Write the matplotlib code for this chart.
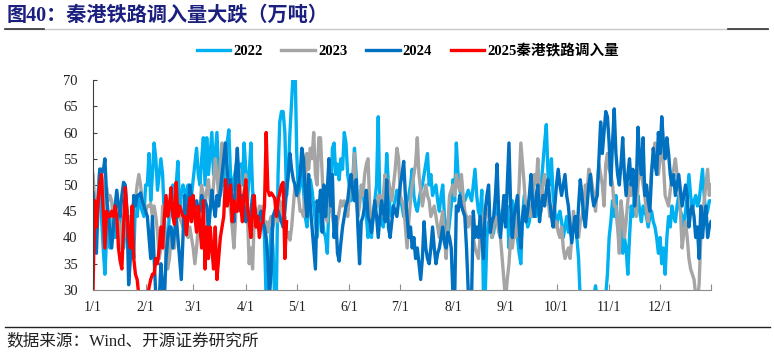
import matplotlib.pyplot as plt
from matplotlib.lines import Line2D
from matplotlib.font_manager import FontProperties

plt.rcParams['font.family'] = ['Liberation Serif', 'Noto Sans CJK SC']

# daily values, day 0 = 1/1
y2022 = [
    42, 38, 46, 48, 53, 44, 38, 33, 40, 45,
    38, 44, 46, 40, 44, 42, 46, 40, 38, 42,
    40, 44, 38, 42, 36, 47, 44, 48, 46, 45,
    44, 50, 50, 56, 47, 52, 58, 55, 49, 52,
    55, 52, 44, 38, 36, 46, 48, 50, 46, 50,
    54.5, 45, 48, 50, 49, 47, 50, 45, 48, 51,
    54, 57, 52, 50, 55, 59, 50, 59, 52, 56,
    60, 52, 56, 60, 52, 48, 50, 50, 56, 58,
    60.5, 52, 49, 51, 53, 55, 52, 54, 50, 58,
    53, 47, 52, 58, 49, 46, 44, 42, 42, 45,
    44, 40, 28, 28, 36, 42, 38, 28, 29, 52,
    62, 64, 64, 60, 48, 52, 60, 66, 72, 73,
    56, 48, 50, 54, 49, 44, 42, 46, 51, 49,
    46, 43, 40, 44, 47, 44, 41, 40, 37, 47,
    45, 57, 58, 52, 54, 51, 55, 53, 60, 58,
    52, 50, 47, 51, 57, 52, 46, 47, 49, 50,
    45, 44, 40, 42, 40, 44, 47, 50, 63, 46,
    43, 42, 48, 56, 50, 45, 44, 46, 47, 49,
    48, 47, 46, 44, 45, 47, 48, 50, 53, 48,
    46, 45, 47, 49, 50, 52, 54, 56, 50, 52,
    48, 49, 50, 47, 45, 48, 50, 44, 42, 40,
    43, 46, 51, 47, 58, 52, 49, 48, 47, 47,
    48, 49, 48, 47, 50, 53, 48, 45, 44, 49,
    28, 29, 40, 43, 42, 40, 41, 44, 47, 45,
    42, 43, 44, 45, 46, 38, 42, 47, 44, 42,
    40, 37, 35, 44, 48, 44, 42, 43, 46, 44,
    45, 44, 46, 45, 50, 54, 58, 61.5, 52, 50,
    55, 48, 45, 42, 44, 45, 43, 40, 42, 44,
    41, 42, 40, 42, 44, 40, 36, 28, 27, 26,
    27, 25, 26, 28, 27, 29, 30.8, 28, 26, 25,
    27, 28, 29, 33, 40, 43, 47, 44, 48, 42,
    40, 44, 37, 40, 38, 33, 40, 46, 44, 48,
    46, 48, 45, 43, 46, 45, 44, 42, 44, 45,
    43, 42, 40, 37, 40, 35, 38, 33, 40, 44,
    42, 46, 44, 43, 46, 48, 45, 44, 42, 45,
    48, 52, 48, 45, 47, 48, 46, 47, 50, 53,
    48, 44, 45, 47, 47,
]

y2023 = [
    52, 47, 45, 48, 53, 52, 50, 45, 49.5, 47,
    48, 47, 42, 45, 43, 43, 38, 42, 44, 42,
    40, 42, 44, 42, 45, 47, 50, 52, 50, 47,
    46, 45, 46, 46, 46.5, 44, 46, 44, 41, 36,
    38, 46, 40, 36, 34, 36, 40, 38, 38, 43,
    46, 44, 43, 42, 44, 41, 40, 42, 40, 38,
    35, 38, 42, 46, 50, 48, 46, 49, 51, 47,
    46, 50, 55, 52, 48, 54, 58, 55, 58, 52,
    48, 45, 42, 38, 44, 51, 53, 49, 44, 48,
    52, 44, 35, 38, 34, 44, 42, 44, 46, 44,
    46, 42, 43, 41, 43, 44, 42, 44, 45, 43,
    47, 45, 42, 44, 40, 41, 39.5, 42, 46, 50,
    49, 48, 45, 45, 44, 50, 56, 53, 57, 55,
    60, 52, 50, 59, 59, 52, 45, 44, 43, 55,
    48, 44, 42, 40, 43, 45, 47, 46, 47, 46,
    44, 48, 52, 50, 56, 47, 44, 46, 50, 48,
    52, 54, 55, 46, 42, 44, 45, 46, 48, 48,
    44, 48, 52, 50, 51, 49, 47, 50, 53, 57,
    55, 48, 47, 46, 42, 38, 43, 47, 50, 52,
    54, 59, 52, 49, 46, 48, 50, 48, 47, 44,
    45, 46, 44, 42, 40, 43, 45, 40, 36, 42,
    48, 49, 50, 48, 52, 50, 49, 52, 48, 45,
    44, 42, 44, 43, 40, 38, 37, 36, 40, 43,
    44, 46, 45, 44, 42, 40, 42, 44, 43, 41,
    40, 36, 32, 28, 32, 35, 40, 38, 41, 40,
    44, 50, 58, 54, 50, 45, 44, 46, 44, 48,
    52, 50, 55, 48, 45, 50, 52, 50, 48, 44,
    46, 44, 42, 43, 41, 40, 42, 38, 36, 37,
    38, 36, 40, 45, 42, 42, 40, 43, 44, 46,
    50, 48, 53, 52, 50, 48, 45, 50, 54, 52,
    50, 46, 54, 56, 53, 52, 50, 46, 46, 42,
    37, 47, 44, 40, 43, 47, 50, 48, 52, 48,
    44, 50, 54, 52, 50, 48, 45, 43, 48, 53,
    55, 58, 54, 52, 55, 59, 54, 48, 47, 46,
    49, 52, 53, 55, 52, 51, 45, 38, 41, 43,
    40, 36, 34, 33, 32, 29, 28, 31, 40, 44,
    47, 50, 53, 48, 50,
]

y2024 = [
    48.5, 44, 37, 46, 53, 53, 52.5, 55, 48, 44,
    41, 38, 42, 46, 49, 46, 44, 48, 50.5, 50,
    45, 31, 36, 40, 48, 46, 48, 48, 48.5, 47,
    46, 45, 44, 40, 36, 44, 36, 29, 27, 28,
    35, 30, 28, 36, 40, 42, 42, 38, 41, 44,
    40, 36, 32, 40, 48, 42, 45, 50, 48, 44,
    46, 47, 45, 45, 48, 46, 47, 46, 41, 45,
    49, 46, 44, 48, 46, 49, 52, 55, 58, 53,
    49, 51, 46, 43, 52, 57, 50, 45, 48, 46,
    43, 45, 44, 45, 48, 46, 44, 42, 44, 45,
    43, 42, 40, 36, 29, 34, 44, 45, 46, 45,
    44, 43, 42, 45, 49, 52, 56, 53, 51, 50,
    48, 50, 52, 57, 55, 48, 44, 52, 46, 42,
    38, 34, 47, 45, 49, 41, 50, 44, 49, 55,
    46, 52, 40, 44, 37, 35.5, 39, 42, 44, 46,
    47, 50, 52, 49, 47, 51, 42, 35, 43, 44,
    46, 49, 44, 43, 41, 44, 47, 44, 40, 44,
    47, 45, 43, 51, 42, 40, 43, 46, 45, 44,
    47, 50, 52, 54.5, 48, 44, 40, 42, 38, 40,
    36, 38, 35, 32, 36, 43, 38, 36, 35, 38,
    42, 38, 35, 37, 38, 40, 42, 39, 38, 41,
    40, 38, 29, 28, 46, 45, 48, 46, 45, 44,
    38, 30, 28, 29, 45, 40, 42, 40, 44, 40,
    36, 45, 48, 50, 41, 43, 44, 48, 54, 44,
    40, 44, 48, 42, 50, 58, 46, 40, 44, 46,
    48, 42, 38, 44, 46, 43, 45, 48, 52, 46,
    44, 48, 50, 43, 46, 48, 46, 49, 51, 47,
    44, 42, 46, 50, 53, 50, 48, 50, 52, 48,
    46, 42, 39, 42, 44, 40, 46, 51, 48, 44,
    42, 46, 50, 52, 48, 46, 47, 48, 55, 62,
    56, 60, 64, 63, 58, 50, 58, 64.5, 56, 52,
    50, 54, 59, 52, 48, 52, 55, 50, 53, 46,
    50, 61, 55, 52, 59, 48, 50, 47, 45, 52,
    57, 54, 52, 60, 56, 63, 58, 55, 59, 56,
    52, 50, 52, 48, 50, 52, 49, 46, 48, 50,
    48, 42, 45, 46, 44, 40, 42, 36, 46, 40,
    44, 46, 40, 42, 43,
]

y2025 = [
    29.5, 47, 42, 47, 50, 52, 45, 38, 45, 44,
    44, 45, 44, 46, 44, 38, 35.5, 34, 42, 49.5,
    45, 40, 38, 46, 36, 33, 32, 29, 27, 26,
    26, 27, 28, 30.5, 32, 33, 33, 36, 35, 38,
    42, 38, 44, 48, 44, 46, 49.5, 44, 42.5, 50.5,
    44, 46, 45, 44, 44, 40.5, 44, 47.5, 43, 48,
    44, 41, 46, 42, 38, 47, 34, 42, 36, 42,
    38, 34, 42, 32, 36, 40, 42, 44, 51, 46,
    48, 50, 43, 47, 45, 45, 50, 46, 43, 48,
    51, 46, 43, 40, 45, 48, 42, 44, 40, 42.5,
    43, 46, 60, 49, 48, 48.5, 48, 47.5, 44, 47,
    48.5, 50, 50.5, 36, 43,
]

month_starts = [0, 31, 59, 90, 120, 151, 181, 212, 243, 273, 304, 334]
month_labels = ['1/1', '2/1', '3/1', '4/1', '5/1', '6/1',
                '7/1', '8/1', '9/1', '10/1', '11/1', '12/1']
year_end = 364

fig = plt.figure(figsize=(7.74, 3.55), dpi=100)
ax = fig.add_axes([93 / 774, 1 - 290 / 355, 618 / 774, 210 / 355])

ax.plot(range(len(y2022)), y2022, color='#00B0F0', lw=2.4, label='2022')
ax.plot(range(len(y2023)), y2023, color='#A5A5A5', lw=2.4, label='2023')
ax.plot(range(len(y2024)), y2024, color='#0070C0', lw=2.4, label='2024')
ax.plot(range(len(y2025)), y2025, color='#FF0000', lw=2.4, label='2025秦港铁路调入量')

ax.set_xlim(0, year_end)
ax.set_ylim(30, 70)
ax.set_yticks(range(30, 71, 5))
ax.set_xticks(month_starts + [year_end])
ax.set_xticklabels(month_labels + [''])

for s in ['top', 'right']:
    ax.spines[s].set_visible(False)
ax.spines['left'].set_color('#404040')
ax.spines['bottom'].set_color('#8C8C8C')
ax.tick_params(axis='y', direction='in', length=3, labelsize=10.5, pad=11,
               colors='#404040', labelcolor='#222222')
ax.tick_params(axis='x', direction='in', length=4, labelsize=10, pad=8,
               colors='#8C8C8C', labelcolor='#222222')

# legend above the plot
leg_font = FontProperties(family=['Liberation Serif', 'Noto Sans CJK SC'],
                          weight='bold', size=10.5)
fig.legend(loc='center', bbox_to_anchor=(0.527, 0.856), ncol=4, frameon=False,
           prop=leg_font, handlelength=2.3, handletextpad=0.2, columnspacing=1.3)

# title and rules
fig.text(7 / 774, 1 - 16 / 355, '图40：秦港铁路调入量大跌（万吨）', color='#1B1F7E',
         fontsize=14.5, fontweight='bold', va='center', ha='left',
         family=['Liberation Serif', 'Noto Sans CJK SC'])
fig.add_artist(Line2D([5 / 774, 768 / 774], [1 - 28.5 / 355] * 2,
                      transform=fig.transFigure, color='#C8C8C8', lw=1))
fig.add_artist(Line2D([5 / 774, 44 / 774], [1 - 29 / 355] * 2,
                      transform=fig.transFigure, color='#333333', lw=1.2))
fig.add_artist(Line2D([728 / 774, 768 / 774], [1 - 29 / 355] * 2,
                      transform=fig.transFigure, color='#333333', lw=1.2))

fig.add_artist(Line2D([5 / 774, 770 / 774], [1 - 327 / 355] * 2,
                      transform=fig.transFigure, color='#222222', lw=1))
fig.text(6 / 774, 1 - 341 / 355, '数据来源：Wind、开源证券研究所', color='#222222',
         fontsize=12, va='center', ha='left',
         family=['Liberation Serif', 'Noto Sans CJK SC'])

fig.savefig('out.png', dpi=100)
